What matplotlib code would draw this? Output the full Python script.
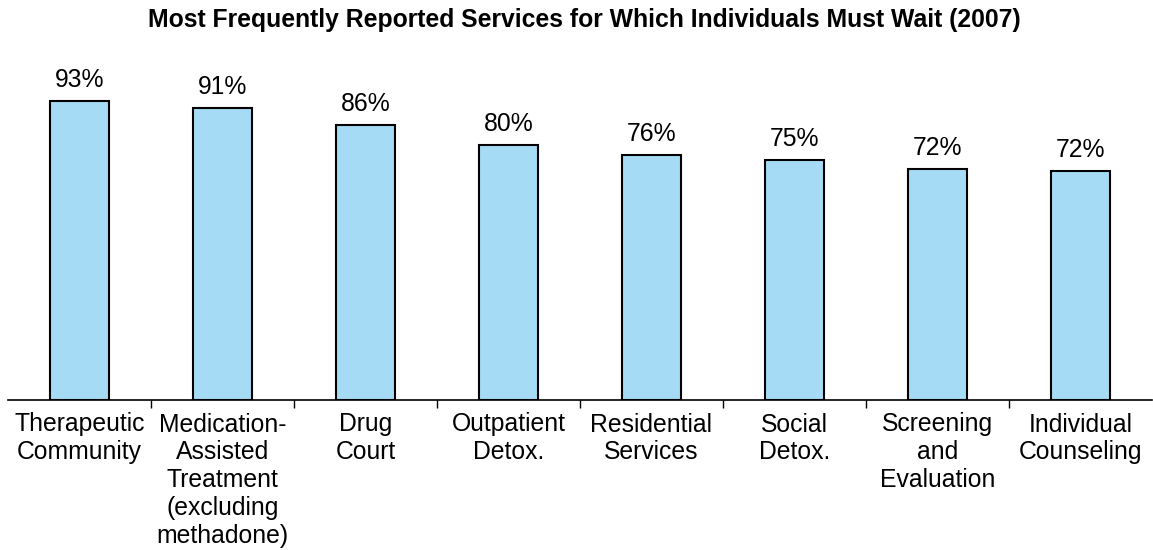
import matplotlib.pyplot as plt
import numpy as np

plt.rcParams['font.family'] = ['Liberation Sans', 'DejaVu Sans']

# data
services = ["Therapeutic\nCommunity", "Medication-\nAssisted\nTreatment\n(excluding\nmethadone)",
            "Drug\nCourt", "Outpatient\nDetox.", "Residential\nServices", "Social\nDetox.",
            "Screening\nand\nEvaluation", "Individual\nCounseling"]
pct_values = [93.0, 90.6, 85.6, 79.4, 76.2, 74.7, 71.9, 71.3]
pct_labels = ["93%", "91%", "86%", "80%", "76%", "75%", "72%", "72%"]

fig = plt.figure(figsize=(11.53, 5.5), dpi=100)
ax = fig.add_axes([8/1153, 150/550, 1144/1153, 0.585])

x = np.arange(len(services))
bars = ax.bar(x, pct_values, width=0.41, color="#A6DBF5", edgecolor="black", linewidth=1.5)
for xi, v, lab in zip(x, pct_values, pct_labels):
    ax.text(xi, v + 2.8, lab, ha="center", va="bottom", fontsize=17.8)

ax.set_xlim(-0.5, len(services) - 0.5)
ax.set_ylim(0, 100)
ax.set_xticks(x)
ax.set_xticklabels(services, fontsize=17.8, linespacing=1.2)
ax.set_xticks(x[:-1] + 0.5, minor=True)
ax.tick_params(axis="x", which="major", length=0, pad=9)
ax.tick_params(axis="x", which="minor", length=6, width=1, direction="out")
ax.set_yticks([])
for s in ["top", "right", "left"]:
    ax.spines[s].set_visible(False)
ax.spines["bottom"].set_linewidth(1.2)

fig.suptitle("Most Frequently Reported Services for Which Individuals Must Wait (2007)",
             fontsize=17.8, fontweight="bold", y=0.963, x=0.507, va="center")

fig.savefig("out.png", dpi=100)
